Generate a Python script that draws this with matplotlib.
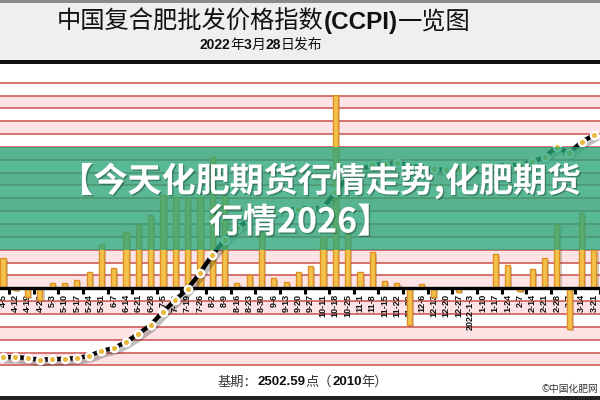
import matplotlib
matplotlib.use("Agg")
import matplotlib.pyplot as plt
import matplotlib.patheffects as pe
from matplotlib.patches import Rectangle
import numpy as np

plt.rcParams['font.family'] = ['Noto Sans CJK SC', 'DejaVu Sans']

# --- datos ---
fechas = ["4-5", "4-12", "4-19", "4-26", "5-3", "5-10", "5-17", "5-24", "5-31",
          "6-7", "6-14", "6-21", "6-28", "7-5", "7-12", "7-19", "7-26", "8-2",
          "8-9", "8-16", "8-23", "8-30", "9-6", "9-13", "9-20", "9-27", "10-11",
          "10-18", "10-25", "11-1", "11-8", "11-15", "11-22", "11-29", "12-6",
          "12-13", "12-20", "12-27", "2022-1-3", "1-10", "1-17", "1-24", "2-7",
          "2-14", "2-21", "2-28", "3-7", "3-14", "3-21"]

# variación semanal (barras)
variacion = [23.6, -1.3, -6.8, -9.1, 4.1, 4.1, 6.5, 12.7, 34.5,
             15.8, 43.8, 49.3, 57.0, 72.6, 71.0, 70.3, 71.0, 102.0,
             72.6, 4.1, 10.3, 43.8, 8.0, 4.9, 12.7, 17.4, 40.7,
             150.4, 43.0, 12.7, 28.2, 5.7, 4.1, -28.6, 3.3,
             -6.8, 0.0, -2.9, 0.0, 0.0, 26.7, 18.1, -2.0,
             15.0, 23.6, 50.0, -31.7, 58.6, 30.0]

# índice CCPI (línea)
indice = [2593, 2593, 2587, 2575, 2581, 2581, 2587, 2600, 2631,
          2649, 2687, 2737, 2793, 2874, 2948, 3017, 3116, 3228,
          3322, 3397, 3446, 3484, 3496, 3509, 3515, 3521, 3521,
          3621, 3708, 3758, 3789, 3795, 3801, 3789, 3770,
          3764, 3758, 3758, 3764, 3770, 3782, 3789, 3789,
          3807, 3839, 3901, 3863, 3932, 3975]

x = np.arange(len(fechas))

fig = plt.figure(figsize=(6, 4), dpi=100)
fig.patch.set_facecolor('white')

# --- cabecera ---
fig.patches.append(Rectangle((0, 1 - 60/400), 1, 58/400, transform=fig.transFigure,
                             facecolor='#efefef', edgecolor='none', zorder=0))
fig.patches.append(Rectangle((0, 1 - 2.5/400), 1, 2.5/400, transform=fig.transFigure,
                             facecolor='#8a8a8a', edgecolor='none', zorder=0))
fig.patches.append(Rectangle((0, 1 - 63.5/400), 1, 3.5/400, transform=fig.transFigure,
                             facecolor='#111111', edgecolor='none', zorder=0))
fig.patches.append(Rectangle((0, 0), 1, 4/400, transform=fig.transFigure,
                             facecolor='#222222', edgecolor='none', zorder=0))

# --- gráfico principal ---
ax = fig.add_axes([0, 7/400, 1, 330/400])
ax.set_xlim(-0.24, 47.87)
ax.set_ylim(-81.5, 175.3)

for m in range(-3, 8):
    ax.axhspan(20*m, 20*m + 10, color='#fde3e3', lw=0, zorder=0)
for v in range(-60, 170, 10):
    if v != 0:
        ax.axhline(v, color='#c9504e', lw=1.1, zorder=1)

barras = ax.bar(x, variacion, width=0.42, color='#f3c24a', edgecolor='#e08f27',
                linewidth=1.0, zorder=3)
for b in barras:
    b.set_path_effects([pe.SimplePatchShadow(offset=(1.5, -1.5), alpha=0.25), pe.Normal()])

for s in ['left', 'right', 'top']:
    ax.spines[s].set_visible(False)
ax.spines['bottom'].set_position(('data', 0))
ax.spines['bottom'].set_linewidth(2.4)
ax.spines['bottom'].set_zorder(4)
ax.set_yticks([])
ax.set_xticks(x)
ax.set_xticklabels(fechas, rotation=90, fontsize=6.5, fontweight='bold',
                   family=['Liberation Sans'], va='top', color='#111111')
ax.tick_params(axis='x', which='major', length=0, pad=4)
ax.set_xticks(np.arange(0.5, len(fechas), 2), minor=True)
ax.tick_params(axis='x', which='minor', length=4.5, width=2.2, color='black')

# --- línea del índice ---
ax2 = ax.twinx()
ax2.set_ylim(2369.3, 4423.7)
ax2.set_yticks([])
for s in ax2.spines.values():
    s.set_visible(False)
ax2.plot(x, indice, color='black', lw=3.2, zorder=5,
         path_effects=[pe.SimpleLineShadow(offset=(2, -3), alpha=0.25), pe.Normal()])
ax2.plot(x, indice, 'o', ms=6, mfc='white', mec='white', zorder=6)
ax2.plot(x, indice, 'o', ms=2.6, mfc='#eab83a', mec='#eab83a', zorder=7)

# --- banda verde superpuesta ---
fig.patches.append(Rectangle((0, 1 - 250/400), 1, 103/400, transform=fig.transFigure,
                             facecolor='#2aa679', alpha=0.78, edgecolor='none', zorder=10))
sombra = [pe.withSimplePatchShadow(offset=(1, -1), shadow_rgbFace='#1c4a3a', alpha=0.5)]
fig.text(320/600, 1 - 181/400, "【今天化肥期货行情走势,化肥期货", fontsize=24.5,
         fontweight='bold', color='white', ha='center', va='center', zorder=11,
         path_effects=sombra)
fig.text(300/600, 1 - 222/400, "行情2026】", fontsize=24.5,
         fontweight='bold', color='white', ha='center', va='center', zorder=11,
         path_effects=sombra)


def texto_mixto(piezas, xc, yc, size):
    r = fig.canvas.get_renderer()
    objs = []
    for s, w, c, fam in piezas:
        objs.append(fig.text(0, yc, s, fontsize=size, fontweight=w, color=c,
                             family=fam, ha='left', va='center', zorder=12))
    anchos = [t.get_window_extent(r).width for t in objs]
    px = xc * fig.bbox.width - sum(anchos) / 2
    for t, w in zip(objs, anchos):
        t.set_x(px / fig.bbox.width)
        px += w


cjk = ['Noto Sans CJK SC', 'DejaVu Sans']
lat = ['Liberation Sans', 'Noto Sans CJK SC']
texto_mixto([("中国复合肥批发价格指数", 'normal', '#111111', cjk),
             ("(CCPI)", 'bold', '#111111', lat),
             ("一览图", 'normal', '#111111', cjk)], 264/600, 1 - 22/400, 17.5)
texto_mixto([("2022", 'bold', '#111111', lat), ("年", 'normal', '#111111', cjk),
             ("3", 'bold', '#111111', lat), ("月", 'normal', '#111111', cjk),
             ("28", 'bold', '#111111', lat), ("日发布", 'normal', '#111111', cjk)],
            261/600, 1 - 45/400, 10)
texto_mixto([("基期：", 'normal', '#333333', cjk), ("2502.59", 'bold', '#111111', lat),
             ("点（", 'normal', '#333333', cjk), ("2010", 'bold', '#111111', lat),
             ("年）", 'normal', '#333333', cjk)], 303/600, 1 - 382/400, 9.5)
fig.text(598/600, 1 - 389/400, "©中国化肥网", fontsize=7, color='#333333',
         ha='right', va='center')

plt.savefig("out.png", dpi=100)
